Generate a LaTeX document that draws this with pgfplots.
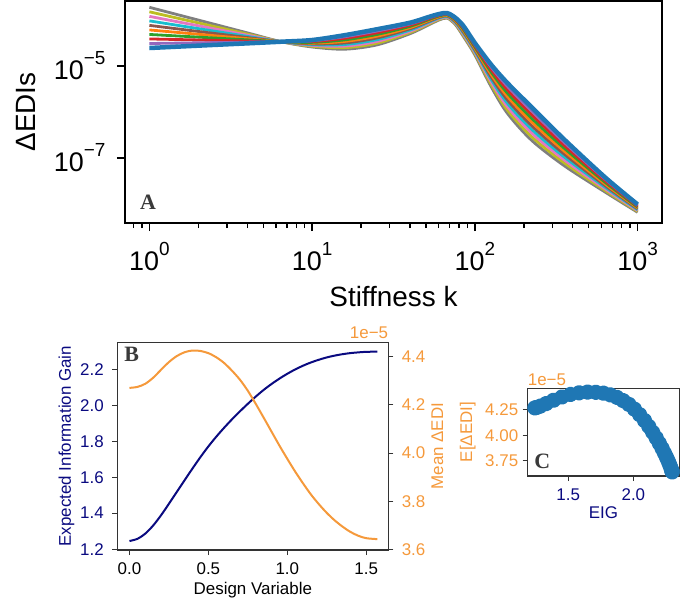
\documentclass[border=0pt]{standalone}
\usepackage{fontspec}
\setmainfont{Liberation Sans}
\newfontfamily\panelfont{Liberation Serif}
\usepackage{pgfplots}
\pgfplotsset{compat=1.18}
\usepackage{pgfplotstable}

\definecolor{tabblue}{HTML}{1F77B4}
\definecolor{taborange}{HTML}{FF7F0E}
\definecolor{tabgreen}{HTML}{2CA02C}
\definecolor{tabred}{HTML}{D62728}
\definecolor{tabpurple}{HTML}{9467BD}
\definecolor{tabbrown}{HTML}{8C564B}
\definecolor{tabpink}{HTML}{E377C2}
\definecolor{tabgray}{HTML}{7F7F7F}
\definecolor{tabolive}{HTML}{BCBD22}
\definecolor{tabcyan}{HTML}{17BECF}
\definecolor{edi}{HTML}{F5993B}
\definecolor{eig}{HTML}{0A0A80}
\definecolor{spine}{HTML}{333333}
\definecolor{lblgray}{HTML}{3A3A3A}

\newcommand{\tenpow}[1]{10\raisebox{0.56em}{\fontsize{19}{20}\selectfont #1}}

% panel A, on log10 scales: log10(k) and log10(EDI) of the curve family,
% first curve (f) to last (b)
\pgfplotstableread{
lk    f      a1     a2     a3     a4     a5     a6     a7     a8     b
0     -3.724 -3.822 -3.921 -4.019 -4.117 -4.216 -4.314 -4.412 -4.511 -4.609
0.3   -4.001 -4.063 -4.125 -4.187 -4.249 -4.310 -4.372 -4.434 -4.496 -4.558
0.6   -4.278 -4.304 -4.329 -4.355 -4.380 -4.406 -4.431 -4.457 -4.482 -4.508
0.81  -4.472 -4.472 -4.472 -4.472 -4.472 -4.472 -4.472 -4.472 -4.472 -4.472
1.0   -4.587 -4.570 -4.553 -4.536 -4.519 -4.503 -4.486 -4.469 -4.452 -4.435
1.2   -4.635 -4.601 -4.567 -4.533 -4.499 -4.466 -4.432 -4.398 -4.364 -4.330
1.4   -4.540 -4.502 -4.464 -4.427 -4.389 -4.351 -4.313 -4.276 -4.238 -4.200
1.6   -4.300 -4.273 -4.247 -4.220 -4.193 -4.167 -4.140 -4.113 -4.087 -4.060
1.72  -4.100 -4.081 -4.062 -4.043 -4.024 -4.006 -3.987 -3.968 -3.949 -3.930
1.78  -4.000 -3.986 -3.971 -3.957 -3.942 -3.928 -3.913 -3.899 -3.884 -3.870
1.83  -3.960 -3.948 -3.936 -3.923 -3.911 -3.899 -3.887 -3.874 -3.862 -3.850
1.88  -4.100 -4.083 -4.067 -4.050 -4.033 -4.017 -4.000 -3.983 -3.967 -3.950
1.93  -4.360 -4.334 -4.309 -4.283 -4.258 -4.232 -4.207 -4.181 -4.156 -4.130
2.0   -4.760 -4.731 -4.702 -4.673 -4.644 -4.616 -4.587 -4.558 -4.529 -4.500
2.1   -5.450 -5.397 -5.343 -5.290 -5.237 -5.183 -5.130 -5.077 -5.023 -4.970
2.2   -6.030 -5.957 -5.883 -5.810 -5.737 -5.663 -5.590 -5.517 -5.443 -5.370
2.35  -6.620 -6.540 -6.460 -6.380 -6.300 -6.220 -6.140 -6.060 -5.980 -5.900
2.55  -7.170 -7.107 -7.043 -6.980 -6.917 -6.853 -6.790 -6.727 -6.663 -6.600
2.8   -7.740 -7.704 -7.669 -7.633 -7.598 -7.562 -7.527 -7.491 -7.456 -7.420
3.0   -8.180 -8.161 -8.142 -8.123 -8.104 -8.086 -8.067 -8.048 -8.029 -8.010
}\edis

% panels B and C: design variable, EIG, mean EDI (units of 1e-5)
\pgfplotstableread{
x      eig    edi
0.00   1.245  4.270
0.05   1.257  4.274
0.10   1.286  4.287
0.15   1.331  4.312
0.20   1.388  4.345
0.25   1.452  4.377
0.30   1.518  4.402
0.35   1.584  4.418
0.40   1.649  4.425
0.45   1.712  4.423
0.50   1.771  4.414
0.55   1.825  4.397
0.60   1.875  4.373
0.65   1.922  4.341
0.70   1.966  4.304
0.75   2.008  4.258
0.80   2.048  4.204
0.85   2.085  4.147
0.90   2.118  4.089
0.95   2.148  4.031
1.00   2.175  3.976
1.05   2.199  3.923
1.10   2.220  3.874
1.15   2.238  3.828
1.20   2.253  3.788
1.25   2.266  3.752
1.30   2.276  3.721
1.35   2.284  3.695
1.40   2.290  3.673
1.45   2.294  3.657
1.50   2.297  3.647
1.5708 2.298  3.643
}\design

\pgfplotsset{
  small panel/.style={
    scale only axis, tick align=outside, major tick length=5bp,
    axis line style={spine, line width=1.2bp},
    tick style={spine, line width=1bp},
    tick label style={font=\fontsize{17}{20}\selectfont},
    label style={font=\fontsize{17}{20}\selectfont},
    /pgf/number format/assume math mode=true,
    /pgf/number format/fixed, /pgf/number format/fixed zerofill,
  },
  curve/.style={line width=2.8bp, smooth, tension=0.5},
}
\tikzset{
  panel letter/.style={font={\panelfont\bfseries\fontsize{22}{24}\selectfont}, text=lblgray, inner sep=0pt},
}

\begin{document}
\begin{tikzpicture}

% ---- A (decades on both axes) ----
\begin{axis}[
  at={(125bp,-1bp)}, anchor=north west,
  scale only axis, width=537bp, height=222bp,
  xmin=-0.15, xmax=3.15, ymin=-8.413, ymax=-3.587,
  xtick={0,1,2,3},
  xticklabels={\tenpow{0},\tenpow{1},\tenpow{2},\tenpow{3}},
  minor xtick={-0.0969,-0.0458,
    0.30103,0.47712,0.60206,0.69897,0.77815,0.84510,0.90309,0.95424,
    1.30103,1.47712,1.60206,1.69897,1.77815,1.84510,1.90309,1.95424,
    2.30103,2.47712,2.60206,2.69897,2.77815,2.84510,2.90309,2.95424},
  ytick={-7,-5},
  yticklabels={\tenpow{−7},\tenpow{−5}},
  xtick pos=bottom, ytick pos=left, tick align=outside,
  major tick length=8bp, minor tick length=5bp,
  tick style={black, line width=1.3bp},
  axis line style={black, line width=2bp},
  tick label style={font=\fontsize{27}{30}\selectfont},
  xticklabel style={yshift=-8bp},
  yticklabel style={xshift=-8bp},
  label style={font=\fontsize{28}{32}\selectfont},
  xlabel={Stiffness k}, ylabel={ΔEDIs},
  xlabel style={at={(axis description cs:0.5,-0.374)}, anchor=base, inner sep=0pt},
  ylabel style={at={(axis description cs:-0.166,0.5)}, anchor=base, inner sep=0pt},
]
\addplot[tabgray, curve] table[x=lk, y=f]{\edis};
\addplot[tabolive, curve] table[x=lk, y=a1]{\edis};
\addplot[tabpink, curve] table[x=lk, y=a2]{\edis};
\addplot[tabcyan, curve] table[x=lk, y=a3]{\edis};
\addplot[tabbrown, curve] table[x=lk, y=a4]{\edis};
\addplot[taborange, curve] table[x=lk, y=a5]{\edis};
\addplot[tabgreen, curve] table[x=lk, y=a6]{\edis};
\addplot[tabred, curve] table[x=lk, y=a7]{\edis};
\addplot[tabpurple, curve] table[x=lk, y=a8]{\edis};
\addplot[tabblue, curve, line width=4.5bp] table[x=lk, y=b]{\edis};
\node[panel letter, anchor=south west] at (rel axis cs:0.028,0.059) {A};
\end{axis}

% ---- B (left axis) ----
\begin{axis}[
  small panel,
  at={(117.3bp,-550bp)}, anchor=south west, width=271bp, height=207.7bp,
  xmin=-0.077, xmax=1.64, ymin=1.195, ymax=2.35,
  xtick={0,0.5,1,1.5}, ytick={1.2,1.4,1.6,1.8,2.0,2.2},
  xtick pos=bottom, ytick pos=left,
  /pgf/number format/precision=1,
  xticklabel style={black, yshift=-4bp},
  yticklabel style={eig, xshift=-5bp},
  xlabel={Design Variable}, ylabel={Expected Information Gain},
  xlabel style={at={(axis description cs:0.5,-0.212)}, anchor=base, inner sep=0pt},
  ylabel style={eig, at={(axis description cs:-0.171,0.5)}, anchor=base, inner sep=0pt},
]
\addplot[eig, line width=2bp, smooth] table[x=x, y=eig]{\design};
\node[panel letter, anchor=north west] at (rel axis cs:0.025,0.977) {B};
\end{axis}

% ---- B (right axis) ----
\begin{axis}[
  small panel,
  at={(117.3bp,-550bp)}, anchor=south west, width=271bp, height=207.7bp,
  xmin=-0.077, xmax=1.64, ymin=3.598, ymax=4.459,
  axis x line=none, axis y line*=right,
  ytick={3.6,3.8,4.0,4.2,4.4},
  /pgf/number format/precision=1,
  yticklabel style={edi, xshift=5bp},
  ylabel={Mean ΔEDI},
  ylabel style={edi, at={(axis description cs:1.202,0.5)}, anchor=base, inner sep=0pt},
]
\addplot[edi, line width=2bp, smooth] table[x=x, y=edi]{\design};
\end{axis}
\node[anchor=base east, inner sep=0pt, text=edi, font=\fontsize{17}{20}\selectfont] at (388.3bp,-338bp) {1e−5};

% ---- C ----
\begin{axis}[
  small panel,
  at={(527.7bp,-476bp)}, anchor=south west, width=151.6bp, height=87.7bp,
  xmin=1.19, xmax=2.352, ymin=3.603, ymax=4.462,
  xtick={1.5,2.0}, ytick={3.75,4.00,4.25},
  xtick pos=bottom, ytick pos=left,
  xticklabel style={eig, yshift=-4bp, /pgf/number format/precision=1},
  yticklabel style={edi, xshift=-1bp, /pgf/number format/precision=2},
  xlabel={EIG}, ylabel={E[ΔEDI]},
  xlabel style={eig, at={(axis description cs:0.5,-0.479)}, anchor=base, inner sep=0pt},
  ylabel style={edi, at={(axis description cs:-0.367,0.5)}, anchor=base, inner sep=0pt},
]
\addplot[tabblue, line width=7.5bp, line cap=round, line join=round,
  mark=*, mark size=4bp, mark options={draw=none, fill=tabblue}] table[x=eig, y=edi]{\design};
\node[panel letter, anchor=south west] at (rel axis cs:0.042,0.08) {C};
\end{axis}
\node[anchor=base west, inner sep=0pt, text=edi, font=\fontsize{17}{20}\selectfont] at (527.7bp,-385bp) {1e−5};
\path[use as bounding box] (0,0) rectangle (697bp,-607bp);
\end{tikzpicture}
\end{document}
